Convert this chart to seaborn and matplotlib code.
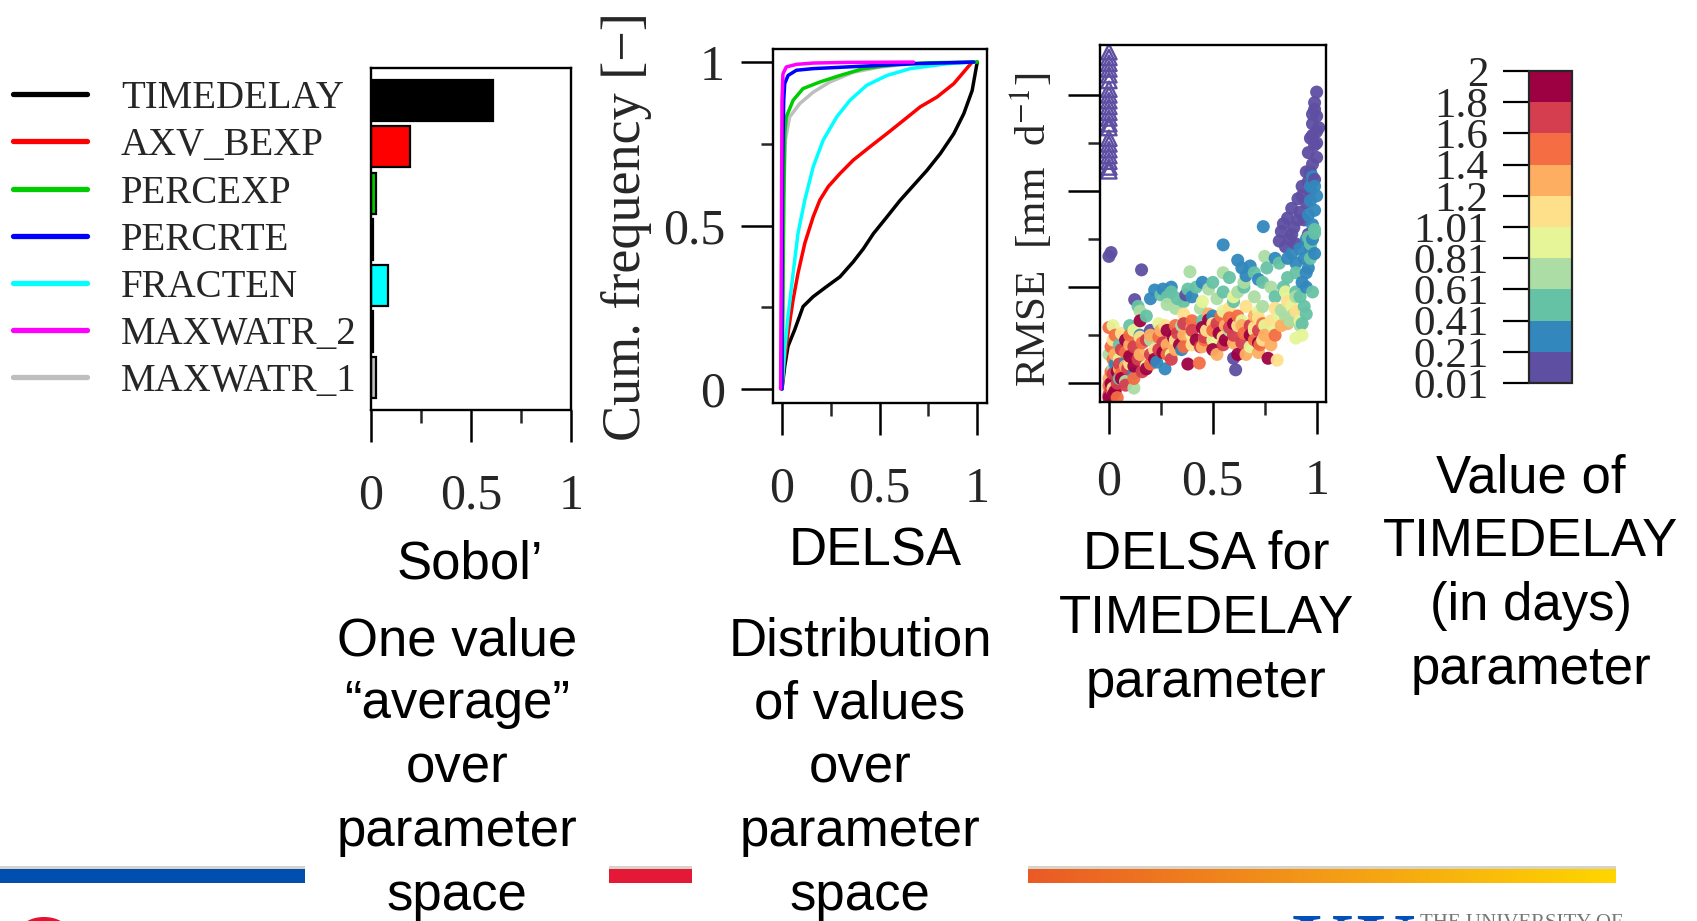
import numpy as np
import pandas as pd
import matplotlib
matplotlib.use("Agg")
import matplotlib.pyplot as plt
from matplotlib.colors import ListedColormap, BoundaryNorm, LinearSegmentedColormap
from matplotlib.cm import ScalarMappable
from matplotlib.ticker import FixedLocator
from matplotlib.patches import Rectangle, Ellipse
import seaborn as sns

# ---------------------------------------------------------------- data
params = ["TIMEDELAY", "AXV_BEXP", "PERCEXP", "PERCRTE", "FRACTEN", "MAXWATR_2", "MAXWATR_1"]
param_colors = ["#000000", "#FF0000", "#00CD00", "#0000FF", "#00FFFF", "#FF00FF", "#BEBEBE"]

# Sobol' total-order index per parameter
sobol_total = [0.61, 0.195, 0.025, 0.01, 0.085, 0.01, 0.025]

# DELSA first-order indices: empirical CDF (index value, cumulative frequency)
cdf_timedelay_x = [0, .014, .031, .065, .108, .159, .228, .297, .365, .417, .468, .537, .605, .674, .743, .811, .880, .931, .974, 1.0]
cdf_timedelay_f = [0, .069, .131, .181, .252, .282, .313, .343, .389, .429, .475, .526, .577, .623, .669, .720, .781, .842, .913, 1.0]
cdf_axv_bexp_x = [0, .009, .031, .057, .082, .117, .160, .194, .237, .297, .365, .451, .537, .623, .708, .794, .880, .974]
cdf_axv_bexp_f = [0, .069, .171, .273, .354, .446, .527, .578, .619, .659, .700, .741, .781, .822, .863, .893, .934, 1.0]
cdf_percexp_x = [0, .005, .009, .014, .022, .057, .108, .194, .297, .417, .588, .760, 1.0]
cdf_percexp_f = [0, .273, .578, .781, .832, .883, .919, .939, .959, .980, .993, .998, 1.0]
cdf_percrte_x = [0, .0, .003, .009, .014, .031, .074, .160, .331, .674, .983]
cdf_percrte_f = [0, .273, .680, .883, .934, .959, .975, .980, .985, .995, 1.0]
cdf_fracten_x = [0, .014, .031, .057, .082, .117, .160, .211, .280, .348, .434, .537, .657, .846, .983]
cdf_fracten_f = [0, .120, .222, .354, .476, .578, .680, .761, .832, .883, .929, .959, .980, .995, 1.0]
cdf_maxwatr2_x = [-.007, -.003, 0, .005, .022, .074, .160, .331, .674]
cdf_maxwatr2_f = [0, .476, .883, .964, .985, .993, .997, .999, 1.0]
cdf_maxwatr1_x = [0, .009, .017, .039, .091, .160, .245, .365, .503, .674, 1.0]
cdf_maxwatr1_f = [0, .578, .761, .832, .873, .908, .939, .969, .985, .995, 1.0]

# DELSA index of TIMEDELAY vs. RMSE, grouped by TIMEDELAY class (days)
td_bounds = [0.01, 0.21, 0.41, 0.61, 0.81, 1.01, 1.2, 1.4, 1.6, 1.8, 2.0]
td_labels = ["0.01", "0.21", "0.41", "0.61", "0.81", "1.01", "1.2", "1.4", "1.6", "1.8", "2"]
td_colors = ["#5E4FA2", "#3288BD", "#66C2A5", "#ABDDA4", "#E6F598",
             "#FEE08B", "#FDAE61", "#F46D43", "#D53E4F", "#9E0142"]

pts_001_021 = [(0.00, 2.32), (0.01, 2.36), (0.157, 2.18), (0.124, 1.87), (0.60, 1.26), (0.61, 1.14),
               (0.37, 1.92), (0.20, 1.55), (1.00, 4.03), (0.99, 3.85), (1.00, 3.78), (0.98, 3.70),
               (1.00, 3.62), (0.97, 3.55), (0.99, 3.48), (0.96, 3.40), (1.00, 3.35), (0.98, 3.28),
               (0.95, 3.20), (0.99, 3.12), (0.93, 3.05), (0.97, 3.00), (0.91, 2.92), (0.95, 2.88),
               (0.88, 2.82), (0.92, 2.78), (0.86, 2.72), (0.84, 2.66), (0.89, 2.62), (0.83, 2.58),
               (0.87, 2.50), (0.90, 2.45), (0.85, 2.42), (0.96, 2.55), (0.94, 2.70), (0.99, 3.92),
               (1.01, 3.66), (0.98, 3.58), (0.91, 2.70), (0.93, 2.95), (0.97, 3.20), (1.00, 3.50),
               (0.98, 3.80), (0.96, 3.10), (0.88, 2.55), (0.82, 2.48)]
pts_021_041 = [(0.55, 2.44), (0.743, 2.63), (0.62, 2.28), (0.64, 2.20), (0.66, 2.12), (0.68, 2.22),
               (0.22, 1.97), (0.20, 1.88), (0.98, 3.15), (0.99, 3.05), (1.00, 2.95), (0.97, 2.90),
               (0.99, 2.80), (0.96, 2.75), (0.98, 2.65), (0.95, 2.50), (0.97, 2.40), (0.94, 2.30),
               (0.96, 2.20), (0.95, 2.15), (0.93, 2.05), (0.95, 2.00), (0.90, 2.25), (0.88, 2.35),
               (0.80, 2.30), (0.30, 2.00), (0.45, 2.05), (0.03, 1.20), (0.12, 1.10), (0.27, 1.15),
               (0.35, 1.35), (0.50, 1.70), (0.15, 1.50), (0.08, 1.22), (0.23, 1.22), (0.26, 1.98),
               (0.40, 1.90), (0.72, 2.08), (0.86, 2.30), (0.92, 2.40), (0.98, 2.50), (0.99, 2.35),
               (0.97, 3.05)]
pts_041_061 = [(0.25, 1.92), (0.30, 1.95), (0.33, 1.88), (0.38, 1.98), (0.42, 2.00), (0.50, 2.05),
               (0.58, 2.10), (0.70, 2.15), (0.76, 2.20), (0.82, 2.25), (0.86, 2.10), (0.90, 1.95),
               (0.92, 1.90), (0.94, 1.80), (0.95, 1.72), (0.97, 2.45), (0.99, 2.60), (0.96, 2.52),
               (0.10, 1.60), (0.05, 1.40), (0.18, 1.70), (0.60, 1.85), (0.45, 1.65), (0.05, 1.05),
               (0.80, 1.90), (0.99, 2.56), (0.28, 1.90), (0.14, 1.80), (0.36, 1.85), (0.55, 1.95),
               (0.65, 2.00), (0.74, 2.05), (0.84, 2.00), (0.90, 2.15), (0.97, 2.30), (0.98, 1.95),
               (0.93, 1.62)]
pts_061_081 = [(0.39, 2.16), (0.75, 2.32), (0.83, 1.76), (0.85, 1.70), (0.87, 1.65), (0.89, 1.72),
               (0.55, 2.15), (0.65, 2.05), (0.48, 1.98), (0.28, 1.82), (0.12, 0.95), (0.08, 1.02),
               (0.20, 1.45), (0.70, 1.90), (0.78, 2.00), (0.35, 1.60), (0.58, 1.55), (0.00, 1.30),
               (0.44, 1.78), (0.02, 1.15), (0.15, 1.75), (0.32, 1.78), (0.52, 1.88), (0.62, 1.95),
               (0.74, 1.80), (0.90, 1.90), (0.92, 1.60)]
pts_081_101 = [(0.90, 1.47), (0.93, 1.50), (0.80, 1.55), (0.72, 1.75), (0.64, 1.65), (0.50, 1.45),
               (0.30, 1.30), (0.18, 1.18), (0.60, 1.90), (0.85, 1.95), (0.40, 1.50), (0.05, 1.25),
               (0.75, 1.60), (0.68, 1.38), (0.88, 1.80), (0.12, 1.55), (0.24, 1.62), (0.45, 1.85),
               (0.55, 1.75), (0.70, 1.55), (0.82, 1.70), (0.92, 1.65), (0.02, 1.60)]
pts_101_120 = [(0.81, 1.24), (0.74, 1.45), (0.78, 1.65), (0.70, 1.58), (0.62, 1.60), (0.55, 1.48),
               (0.47, 1.55), (0.40, 1.40), (0.32, 1.45), (0.22, 1.35), (0.10, 1.20), (0.02, 1.45),
               (0.86, 1.85), (0.66, 1.80), (0.02, 0.95), (0.06, 1.52), (0.15, 1.48), (0.27, 1.60),
               (0.36, 1.72), (0.50, 1.62), (0.58, 1.78), (0.72, 1.68), (0.80, 1.78), (0.90, 1.75)]
pts_120_140 = [(0.66, 1.30), (0.60, 1.42), (0.72, 1.32), (0.78, 1.40), (0.52, 1.30), (0.45, 1.38),
               (0.36, 1.50), (0.28, 1.40), (0.15, 1.30), (0.05, 1.15), (0.00, 1.05), (0.02, 0.90),
               (0.56, 1.60), (0.70, 1.70), (0.83, 1.60), (0.25, 1.55), (0.10, 1.40), (0.03, 1.30),
               (0.08, 1.18), (0.20, 1.50), (0.32, 1.35), (0.40, 1.58), (0.48, 1.72), (0.64, 1.60),
               (0.75, 1.50), (0.86, 1.62), (0.00, 0.95)]
pts_140_160 = [(0.435, 1.21), (0.727, 1.40), (0.00, 1.58), (0.03, 1.50), (0.00, 0.98), (0.08, 1.32),
               (0.16, 1.42), (0.24, 1.48), (0.32, 1.60), (0.40, 1.65), (0.50, 1.55), (0.58, 1.68),
               (0.65, 1.52), (0.74, 1.62), (0.12, 1.05), (0.02, 1.25), (0.04, 0.85), (0.01, 1.38),
               (0.06, 1.10), (0.10, 1.50), (0.20, 1.20), (0.28, 1.30), (0.36, 1.38), (0.46, 1.45),
               (0.54, 1.70), (0.62, 1.70), (0.70, 1.45), (0.80, 1.50), (0.01, 1.12)]
pts_160_180 = [(0.00, 0.88), (0.04, 1.00), (0.09, 1.15), (0.14, 1.25), (0.20, 1.30), (0.26, 1.42),
               (0.33, 1.52), (0.40, 1.55), (0.46, 1.48), (0.52, 1.62), (0.60, 1.50), (0.68, 1.60),
               (0.06, 1.35), (0.30, 1.25), (0.55, 1.40), (0.02, 1.10), (0.01, 0.95), (0.05, 1.20),
               (0.12, 1.38), (0.18, 1.45), (0.24, 1.35), (0.36, 1.62), (0.44, 1.38), (0.58, 1.58),
               (0.64, 1.42), (0.72, 1.55), (0.08, 0.98), (0.16, 1.12)]
pts_180_200 = [(0.766, 1.26), (0.00, 0.85), (0.03, 0.92), (0.06, 1.05), (0.10, 1.28), (0.15, 1.65),
               (0.22, 1.25), (0.28, 1.55), (0.34, 1.40), (0.42, 1.45), (0.48, 1.66), (0.56, 1.45),
               (0.62, 1.30), (0.68, 1.50), (0.18, 1.15), (0.38, 1.20), (0.50, 1.35), (0.01, 1.00),
               (0.04, 1.12), (0.08, 1.45), (0.12, 1.18), (0.26, 1.32), (0.31, 1.48), (0.45, 1.58),
               (0.53, 1.52), (0.60, 1.62), (0.72, 1.42), (0.02, 0.88)]

# runs where the DELSA index is zero (open triangles), three clusters
zero_delsa_rmse = [4.45, 4.39, 4.33, 4.27, 4.21, 4.15,
                   4.06, 4.00, 3.94, 3.88, 3.82, 3.76, 3.70, 3.66,
                   3.55, 3.49, 3.43, 3.37, 3.31, 3.25, 3.21]

# ---------------------------------------------------------------- style
sns.set_theme(style="white")
plt.rcParams["font.family"] = ["Liberation Serif", "DejaVu Serif"]
plt.rcParams["mathtext.fontset"] = "stix"
SANS = "Liberation Sans"

W, H = 1697, 921
fig = plt.figure(figsize=(W / 100, H / 100), dpi=100)


def box(l, t, r, b):
    return [l / W, 1 - b / H, (r - l) / W, (b - t) / H]


# full-figure layer in pixel coordinates for slide text and decorations
bg = fig.add_axes([0, 0, 1, 1])
bg.set_xlim(0, W)
bg.set_ylim(H, 0)
bg.axis("off")

TICK_MAJ, TICK_MIN, TICK_W, SPINE_W = 23, 9, 1.8, 1.7


def frame(ax):
    for s in ax.spines.values():
        s.set_visible(True)
        s.set_color("black")
        s.set_linewidth(SPINE_W)
    ax.set_facecolor("white")


# ---------------------------------------------------------------- legend
legend_y = [94, 141, 189, 236, 283, 330, 377]
for name, col, y in zip(params, param_colors, legend_y):
    bg.plot([13, 87], [y, y], color=col, lw=3.8, solid_capstyle="round")
    bg.text(121, y, name, fontsize=28, va="center_baseline", ha="left")

# ---------------------------------------------------------------- Sobol'
ax_s = fig.add_axes(box(371, 68, 571, 410))
sns.barplot(x=sobol_total, y=params, hue=params, palette=param_colors, orient="h",
            width=0.89, edgecolor="black", linewidth=1.6, saturation=1,
            legend=False, ax=ax_s)
frame(ax_s)
ax_s.set_xlim(0, 1)
ax_s.set_ylim(6.7, -0.71)
ax_s.set_yticks([])
ax_s.set_xticks([0, 0.5, 1], labels=["0", "0.5", "1"])
ax_s.xaxis.set_minor_locator(FixedLocator([0.25, 0.75]))
ax_s.set_xlabel("")
ax_s.set_ylabel("")

# ---------------------------------------------------------------- DELSA CDF
ax_c = fig.add_axes(box(773, 49, 987, 403))
cdf_series = [
    (cdf_maxwatr1_x, cdf_maxwatr1_f, param_colors[6]),
    (cdf_timedelay_x, cdf_timedelay_f, param_colors[0]),
    (cdf_axv_bexp_x, cdf_axv_bexp_f, param_colors[1]),
    (cdf_fracten_x, cdf_fracten_f, param_colors[4]),
    (cdf_percexp_x, cdf_percexp_f, param_colors[2]),
    (cdf_percrte_x, cdf_percrte_f, param_colors[3]),
    (cdf_maxwatr2_x, cdf_maxwatr2_f, param_colors[5]),
]
for xs, fs, col in cdf_series:
    sns.lineplot(x=xs, y=fs, color=col, linewidth=2.5, sort=False, estimator=None, ax=ax_c)
frame(ax_c)
ax_c.set_xlim(-0.046, 1.05)
ax_c.set_ylim(-0.043, 1.04)
ax_c.set_xticks([0, 0.5, 1], labels=["0", "0.5", "1"])
ax_c.set_yticks([0, 0.5, 1], labels=["0", "0.5", "1"])
ax_c.xaxis.set_minor_locator(FixedLocator([0.25, 0.75]))
ax_c.yaxis.set_minor_locator(FixedLocator([0.25, 0.75]))
ax_c.set_xlabel("")
ax_c.set_ylabel("")

# ---------------------------------------------------------------- DELSA vs RMSE
classes = [pts_001_021, pts_021_041, pts_041_061, pts_061_081, pts_081_101,
           pts_101_120, pts_120_140, pts_140_160, pts_160_180, pts_180_200]
rows = []
for k, pts in enumerate(classes):
    for dx, rm in pts:
        rows.append({"delsa": dx, "rmse": rm, "band": td_labels[k + 1]})
df = pd.DataFrame(rows).sort_values("delsa", kind="stable")
palette = {td_labels[k + 1]: td_colors[k] for k in range(10)}

ax_r = fig.add_axes(box(1100, 45, 1326, 402))
sns.scatterplot(data=df, x="delsa", y="rmse", hue="band", palette=palette,
                s=88, linewidth=0, alpha=0.95, legend=False, ax=ax_r)
ax_r.scatter([0.0] * len(zero_delsa_rmse), zero_delsa_rmse, marker="^", s=120,
             facecolors="none", edgecolors=td_colors[0], linewidths=1.7)
frame(ax_r)
ax_r.set_xlim(-0.043, 1.045)
ax_r.set_ylim(0.805, 4.52)
ax_r.set_xticks([0, 0.5, 1], labels=["0", "0.5", "1"])
ax_r.xaxis.set_minor_locator(FixedLocator([0.25, 0.75]))
ax_r.set_yticks([1, 2, 3, 4], labels=["", "", "", ""])
ax_r.yaxis.set_minor_locator(FixedLocator([1.5, 2.5, 3.5]))
ax_r.set_xlabel("")
ax_r.set_ylabel("")

for ax, xpad in ((ax_s, 22.5), (ax_c, 22.5), (ax_r, 18)):
    ax.tick_params(axis="x", which="major", direction="out", length=TICK_MAJ, width=TICK_W,
                   pad=xpad, labelsize=36, color="black", bottom=True)
    ax.tick_params(axis="x", which="minor", direction="out", length=TICK_MIN, width=TICK_W,
                   bottom=True)
for ax in (ax_c, ax_r):
    ax.tick_params(axis="y", which="major", direction="out", length=TICK_MAJ, width=TICK_W,
                   pad=11.5, labelsize=36, color="black", left=True)
    ax.tick_params(axis="y", which="minor", direction="out", length=TICK_MIN, width=TICK_W,
                   left=True)

bg.text(627, 227, "Cum. frequency [\u2212]", rotation=90, fontsize=39,
        ha="center", va="center")
bg.text(1032, 230, r"RMSE  [mm  d$^{-1}$]", rotation=90, fontsize=31,
        ha="center", va="center")

# ---------------------------------------------------------------- colour key
cax = fig.add_axes(box(1529, 71, 1572, 383))
sm = ScalarMappable(norm=BoundaryNorm(td_bounds, len(td_colors)), cmap=ListedColormap(td_colors))
cb = fig.colorbar(sm, cax=cax, spacing="uniform", ticks=td_bounds)
cb.set_ticklabels(td_labels)
cax.yaxis.set_ticks_position("left")
cax.minorticks_off()
cax.tick_params(axis="y", which="major", direction="out", length=18.7, width=1.6,
                pad=10.5, labelsize=31, color="black")
cb.outline.set_linewidth(1.6)

# ---------------------------------------------------------------- slide text
TXT = dict(fontsize=38, family=SANS, ha="center", va="baseline", color="black")
bg.text(470, 578, "Sobol\u2019", **TXT)
for s, y in zip(["One value", "\u201caverage\u201d", "over", "parameter", "space"],
                [655, 718, 782, 846, 910]):
    bg.text(457, y, s, **TXT)
bg.text(875, 565, "DELSA", **TXT)
for s, y in zip(["Distribution", "of values", "over", "parameter", "space"],
                [655, 718, 782, 846, 910]):
    bg.text(860, y, s, **TXT)
for s, y in zip(["DELSA for", "TIMEDELAY", "parameter"], [568, 633, 697]):
    bg.text(1206, y, s, **TXT)
for s, y in zip(["Value of", "TIMEDELAY", "(in days)", "parameter"], [492, 556, 620, 684]):
    bg.text(1531, y, s, **TXT)

# ---------------------------------------------------------------- footer bars
for x0, x1 in ((0, 305), (609, 692), (1028, 1616)):
    bg.add_patch(Rectangle((x0, 866), x1 - x0, 3.5, color="#D6D3CB", lw=0))
bg.add_patch(Rectangle((0, 869), 305, 14, color="#004FAF", lw=0))
bg.add_patch(Rectangle((609, 869), 83, 14, color="#E31937", lw=0))
grad = LinearSegmentedColormap.from_list("footer", ["#EA5A26", "#F39A17", "#FFD600"])
bg.imshow(np.linspace(0, 1, 256)[None, :], cmap=grad, aspect="auto",
          extent=[1028, 1616, 883, 869], zorder=1)
bg.set_xlim(0, W)
bg.set_ylim(H, 0)
bg.add_patch(Ellipse((44, 930), 46, 26, color="#E8112D", lw=0))
bg.text(1292, 913, "KU", fontsize=60, family="Liberation Serif", weight="bold",
        color="#0051BA", ha="left", va="top")
bg.text(1420, 914, "THE UNIVERSITY OF", fontsize=15, family="Liberation Serif",
        color="#777777", ha="left", va="top")

fig.savefig("out.png", dpi=100)
